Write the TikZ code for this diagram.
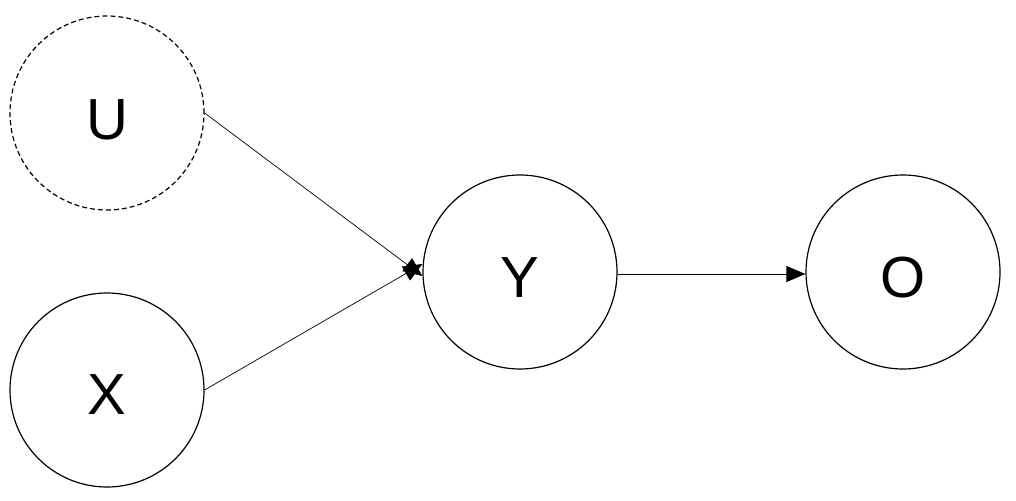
\documentclass[tikz,border=0pt]{standalone}
\usepackage{fontspec}
\setmainfont{Liberation Sans}
\usetikzlibrary{arrows.meta}
\begin{document}
\begin{tikzpicture}[x=1pt,y=-1pt,
  var/.style={circle,draw,line width=1.2pt,minimum size=194pt,inner sep=0pt},
  lbl/.style={font=\fontsize{58}{58}\selectfont},
  arr/.style={-{Triangle[length=19pt,width=16pt]},line width=0.7pt}]
\useasboundingbox (0,0) rectangle (1016,500);
\node[var,dash pattern=on 5pt off 3pt] (U) at (107,113) {};
\node[var] (X) at (107,390) {};
\node[var] (Y) at (520,272) {};
\node[var] (O) at (903,272) {};
\node[lbl] (tU) at (107,120) {U};
\node[lbl] (tX) at (107,395) {X};
\node[lbl] (tY) at (520,278) {Y};
\node[lbl] (tO) at (903,278) {O};
\draw[arr] (U.east) -- ([yshift=-4pt]Y.west);
\draw[arr] (X.east) -- ([yshift=8pt]Y.west);
\draw[arr] ([yshift=-2pt]Y.east) -- ([yshift=-2pt]O.west);
\end{tikzpicture}
\end{document}
